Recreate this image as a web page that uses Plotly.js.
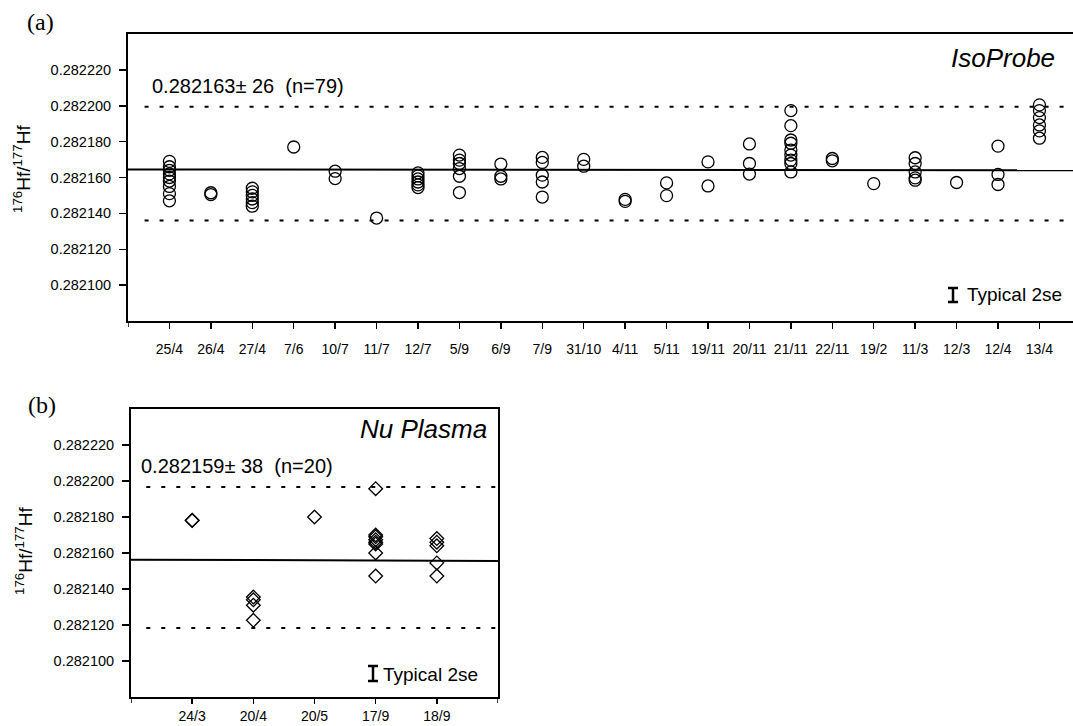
<!DOCTYPE html>
<html>
<head>
<meta charset="utf-8">
<script src="https://cdn.plot.ly/plotly-3.0.1.min.js"></script>
<style>html,body{margin:0;padding:0;background:#fff;}#chart{width:1073px;height:726px;}</style>
</head>
<body>
<div id="chart"></div>
<script>
// ---------- DATA ----------
const categoriesA = ['25/4','26/4','27/4','7/6','10/7','11/7','12/7','5/9','6/9','7/9','31/10','4/11','5/11','19/11','20/11','21/11','22/11','19/2','11/3','12/3','12/4','13/4'];
const ratiosA = [
  [0.282169, 0.282166, 0.282164, 0.282162, 0.282160, 0.282158, 0.282155, 0.282151, 0.282147],
  [0.2821515, 0.2821505],
  [0.282154, 0.282152, 0.282150, 0.282148, 0.282146, 0.282144],
  [0.282177],
  [0.2821635, 0.2821594],
  [0.2821374],
  [0.2821626, 0.2821609, 0.2821592, 0.2821575, 0.2821559, 0.2821544],
  [0.2821725, 0.2821697, 0.2821678, 0.282165, 0.2821607, 0.2821516],
  [0.2821675, 0.2821607, 0.2821592],
  [0.2821712, 0.2821684, 0.2821613, 0.2821575, 0.2821491],
  [0.2821701, 0.2821663],
  [0.2821478, 0.2821467],
  [0.282157, 0.2821499],
  [0.2821687, 0.2821553],
  [0.2821787, 0.2821678, 0.2821619],
  [0.2821973, 0.2821889, 0.2821809, 0.2821791, 0.2821753, 0.2821725, 0.2821697, 0.2821678, 0.2821631],
  [0.2821706, 0.2821693],
  [0.2821566],
  [0.282171, 0.2821678, 0.2821631, 0.2821598, 0.2821585],
  [0.2821572],
  [0.2821775, 0.2821617, 0.2821561],
  [0.2822005, 0.2821973, 0.2821934, 0.2821893, 0.282186, 0.2821819]
];
const meanLineA = [0.2821645, 0.282164];
const upperLimitA = 0.2821995;
const lowerLimitA = 0.282136;

const categoriesB = ['24/3','20/4','20/5','17/9','18/9'];
const ratiosB = [
  [0.282178, 0.2821782],
  [0.2821355, 0.282134, 0.282131, 0.2821226],
  [0.28218],
  [0.2821957, 0.28217, 0.282169, 0.2821674, 0.282166, 0.282165, 0.28216, 0.2821472],
  [0.282168, 0.282166, 0.282164, 0.2821545, 0.2821472]
];
const meanLineB = [0.2821563, 0.2821556];
const upperLimitB = 0.2821967;
const lowerLimitB = 0.2821183;

const yTicks = [0.2821, 0.28212, 0.28214, 0.28216, 0.28218, 0.2822, 0.28222];
const yRange = [0.28208, 0.28224];
const statTextA = '0.282163\u00b1 26  (n=79)';
const statTextB = '0.282159\u00b1 38  (n=20)';

// ---------- GEOMETRY ----------
const W = 1073, H = 726;
const px = v => v / W;
const py = v => 1 - v / H;
const FONT = 'Liberation Sans, Arial, sans-serif';
const SERIF = 'Liberation Serif, Times New Roman, serif';

function flatten(groups) {
  const x = [], y = [];
  groups.forEach((g, i) => g.forEach(v => { x.push(i + 1); y.push(v); }));
  return {x, y};
}
const fa = flatten(ratiosA);
const fb = flatten(ratiosB);
const xEndA = 22.81;
const boxA = {l: 128, t: 34, b: 321};
const boxB = {l: 131, r: 498, t: 409, b: 697};

const traces = [
  {x: fa.x, y: fa.y, xaxis: 'x', yaxis: 'y', type: 'scatter', mode: 'markers',
   marker: {symbol: 'circle-open', size: 12, color: '#000', line: {width: 1.3, color: '#000'}},
   hoverinfo: 'y', showlegend: false},
  {x: fb.x, y: fb.y, xaxis: 'x2', yaxis: 'y2', type: 'scatter', mode: 'markers',
   marker: {symbol: 'diamond-open', size: 10.5, color: '#000', line: {width: 1.3, color: '#000'}},
   hoverinfo: 'y', showlegend: false}
];

const dotted = {color: '#000', width: 2, dash: '4px,11px'};
const shapes = [
  // panel a lines
  {type: 'line', xref: 'x', yref: 'y', x0: 0, x1: xEndA, y0: meanLineA[0], y1: meanLineA[1], line: {color: '#000', width: 2}},
  {type: 'line', xref: 'x', yref: 'y', x0: 0.4, x1: xEndA - 0.1, y0: upperLimitA, y1: upperLimitA, line: dotted},
  {type: 'line', xref: 'x', yref: 'y', x0: 0.4, x1: xEndA - 0.1, y0: lowerLimitA, y1: lowerLimitA, line: dotted},
  // panel b lines
  {type: 'line', xref: 'x2', yref: 'y2', x0: 0, x1: 6, y0: meanLineB[0], y1: meanLineB[1], line: {color: '#000', width: 2}},
  {type: 'line', xref: 'x2', yref: 'y2', x0: 0.25, x1: 6, y0: upperLimitB, y1: upperLimitB, line: dotted},
  {type: 'line', xref: 'x2', yref: 'y2', x0: 0.25, x1: 6, y0: lowerLimitB, y1: lowerLimitB, line: dotted},
  // end tick marks on the x axes
  {type: 'line', xref: 'x', yref: 'paper', x0: 0, x1: 0, y0: py(boxA.b), y1: py(boxA.b + 6), line: {color: '#000', width: 1.5}},
  {type: 'line', xref: 'x2', yref: 'paper', x0: 0, x1: 0, y0: py(boxB.b), y1: py(boxB.b + 6), line: {color: '#000', width: 1.5}},
  {type: 'line', xref: 'x2', yref: 'paper', x0: 6, x1: 6, y0: py(boxB.b), y1: py(boxB.b + 6), line: {color: '#000', width: 1.5}},
];
// "Typical 2se" bars
function ibar(cx, y0, y1) {
  const c = {color: '#000', width: 2.5};
  shapes.push({type: 'line', xref: 'paper', yref: 'paper', x0: px(cx), x1: px(cx), y0: py(y0), y1: py(y1), line: c});
  shapes.push({type: 'line', xref: 'paper', yref: 'paper', x0: px(cx - 5), x1: px(cx + 5), y0: py(y0), y1: py(y0), line: c});
  shapes.push({type: 'line', xref: 'paper', yref: 'paper', x0: px(cx - 5), x1: px(cx + 5), y0: py(y1), y1: py(y1), line: c});
}
ibar(953, 288, 302);
ibar(373, 666, 681);

function ann(text, x, y, size, xanchor, extra) {
  return Object.assign({text: text, xref: 'paper', yref: 'paper', x: px(x), y: py(y),
    xanchor: xanchor, yanchor: 'middle', showarrow: false,
    font: {family: FONT, size: size, color: '#000'}}, extra || {});
}
const annotations = [
  ann('(a)', 25, 22, 24, 'left', {font: {family: SERIF, size: 24, color: '#000'}}),
  ann(statTextA, 150, 86, 20, 'left'),
  ann('<i>IsoProbe</i>', 1057, 58, 26, 'right'),
  ann('Typical 2se', 965, 295, 19, 'left'),
  ann('<sup>176</sup>Hf/<sup>177</sup>Hf', 22, 169, 19, 'center', {textangle: -90}),
  ann('(b)', 26, 405, 24, 'left', {font: {family: SERIF, size: 24, color: '#000'}}),
  ann(statTextB, 139, 466, 20, 'left'),
  ann('<i>Nu Plasma</i>', 489, 429, 26, 'right'),
  ann('Typical 2se', 381, 674, 19, 'left'),
  ann('<sup>176</sup>Hf/<sup>177</sup>Hf', 24, 551, 19, 'center', {textangle: -90}),
];

const axisCommon = {
  showgrid: false, zeroline: false, showline: true, linecolor: '#000', linewidth: 2,
  ticks: 'outside', ticklen: 6, tickwidth: 1.5, tickcolor: '#000',
  tickfont: {family: FONT, size: 14, color: '#000'}, fixedrange: true
};
const yTickFont = {family: FONT, size: 14.5, color: '#000'};

const layout = {
  width: W, height: H,
  margin: {l: 0, r: 0, t: 0, b: 0},
  paper_bgcolor: '#fff', plot_bgcolor: '#fff',
  showlegend: false,
  xaxis: Object.assign({}, axisCommon, {
    domain: [px(boxA.l), 1], range: [0, xEndA], anchor: 'y', mirror: true,
    tickmode: 'array', tickvals: categoriesA.map((c, i) => i + 1),
    ticktext: categoriesA, ticklabelstandoff: 8
  }),
  yaxis: Object.assign({}, axisCommon, {
    domain: [py(boxA.b), py(boxA.t)], range: yRange, anchor: 'x',
    tickmode: 'array', tickvals: yTicks, tickformat: '.6f', ticklen: 7,
    tickfont: yTickFont, ticklabelstandoff: 5
  }),
  xaxis2: Object.assign({}, axisCommon, {
    domain: [px(boxB.l), px(boxB.r)], range: [0, 6], anchor: 'y2', mirror: true,
    tickmode: 'array', tickvals: categoriesB.map((c, i) => i + 1),
    ticktext: categoriesB, ticklen: 5, ticklabelstandoff: 0
  }),
  yaxis2: Object.assign({}, axisCommon, {
    domain: [py(boxB.b), py(boxB.t)], range: yRange, anchor: 'x2', mirror: true,
    tickmode: 'array', tickvals: yTicks, tickformat: '.6f', ticklen: 7,
    tickfont: yTickFont, ticklabelstandoff: 5
  }),
  shapes: shapes,
  annotations: annotations
};

Plotly.newPlot('chart', traces, layout, {displayModeBar: false, staticPlot: true});
</script>
</body>
</html>
